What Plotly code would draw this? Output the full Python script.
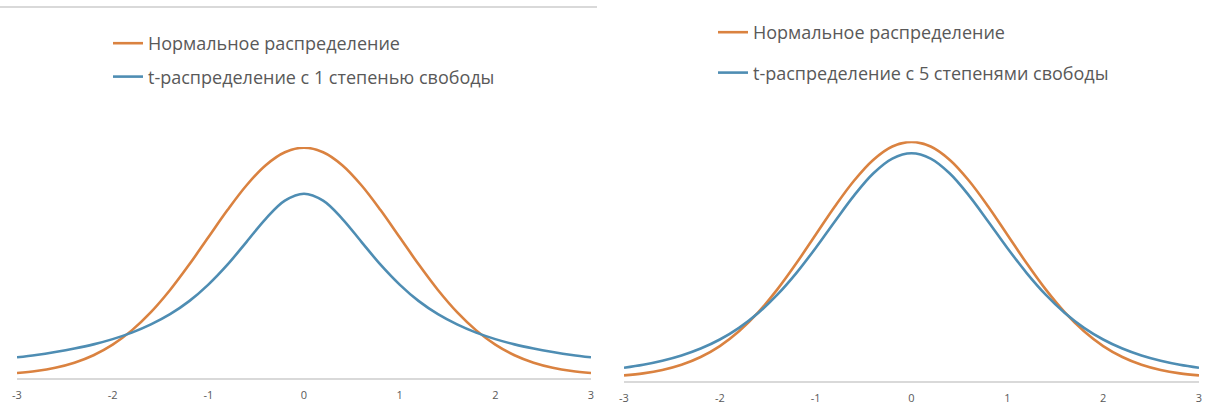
import plotly.graph_objects as go

# x positions (shared by all series)
x_vals = [-3.0, -2.8, -2.6, -2.4, -2.2, -2.0, -1.8, -1.6, -1.4, -1.2, -1.0, -0.8, -0.6, -0.4, -0.2,
          0.0, 0.2, 0.4, 0.6, 0.8, 1.0, 1.2, 1.4, 1.6, 1.8, 2.0, 2.2, 2.4, 2.6, 2.8, 3.0]

# Normal distribution density
normal_vals = [0.0044, 0.0079, 0.0136, 0.0224, 0.0355, 0.0540, 0.0790, 0.1109, 0.1497, 0.1942, 0.2420, 0.2897, 0.3332, 0.3683, 0.3910,
               0.3989, 0.3910, 0.3683, 0.3332, 0.2897, 0.2420, 0.1942, 0.1497, 0.1109, 0.0790, 0.0540, 0.0355, 0.0224, 0.0136, 0.0079, 0.0044]

# t-distribution, 1 degree of freedom
t1_vals = [0.0318, 0.0359, 0.0411, 0.0472, 0.0545, 0.0637, 0.0751, 0.0895, 0.1074, 0.1302, 0.1592, 0.1941, 0.2341, 0.2744, 0.3061,
           0.3183, 0.3061, 0.2744, 0.2341, 0.1941, 0.1592, 0.1302, 0.1074, 0.0895, 0.0751, 0.0637, 0.0545, 0.0472, 0.0411, 0.0359, 0.0318]

# t-distribution, 5 degrees of freedom
t5_vals = [0.0173, 0.0224, 0.0292, 0.0381, 0.0498, 0.0651, 0.0848, 0.1098, 0.1408, 0.1777, 0.2197, 0.2645, 0.3081, 0.3454, 0.3706,
           0.3796, 0.3706, 0.3454, 0.3081, 0.2645, 0.2197, 0.1777, 0.1408, 0.1098, 0.0848, 0.0651, 0.0498, 0.0381, 0.0292, 0.0224, 0.0173]

tick_vals = [-3, -2, -1, 0, 1, 2, 3]
tick_text = ["-3", "-2", "-1", "0", "1", "2", "3"]

name_normal = "Нормальное распределение"
name_t1 = "t-распределение с 1 степенью свободы"
name_t5 = "t-распределение с 5 степенями свободы"

ORANGE = "#DA8240"
BLUE = "#4E8DB3"
TEXT = "#595959"
W, H = 1208, 412

fig = go.Figure()
fig.add_trace(go.Scatter(x=x_vals, y=normal_vals, mode="lines", name=name_normal,
                         line=dict(color=ORANGE, width=2.6, shape="spline"),
                         xaxis="x", yaxis="y", legend="legend", legendgroup="a"))
fig.add_trace(go.Scatter(x=x_vals, y=t1_vals, mode="lines", name=name_t1,
                         line=dict(color=BLUE, width=2.6, shape="spline"),
                         xaxis="x", yaxis="y", legend="legend", legendgroup="b"))
fig.add_trace(go.Scatter(x=x_vals, y=normal_vals, mode="lines", name=name_normal,
                         line=dict(color=ORANGE, width=2.6, shape="spline"),
                         xaxis="x2", yaxis="y2", legend="legend2", legendgroup="c"))
fig.add_trace(go.Scatter(x=x_vals, y=t5_vals, mode="lines", name=name_t5,
                         line=dict(color=BLUE, width=2.6, shape="spline"),
                         xaxis="x2", yaxis="y2", legend="legend2", legendgroup="d"))

axis_x = dict(range=[-3, 3], tickvals=tick_vals, ticktext=tick_text, showgrid=False, zeroline=False,
              showline=True, linecolor="#D9D9D9", linewidth=1.5, ticks="outside", ticklen=6,
              tickcolor="rgba(0,0,0,0)", tickfont=dict(family="Open Sans", size=11, color=TEXT),
              automargin=False)

fig.update_layout(
    width=W, height=H,
    margin=dict(l=0, r=0, t=0, b=0, autoexpand=False),
    paper_bgcolor="white", plot_bgcolor="white",
    xaxis=dict(domain=[17 / W, 591 / W], anchor="y", **axis_x),
    yaxis=dict(domain=[(H - 378) / H, (H - 147.1) / H], range=[-0.0044, 0.4], visible=False,
               anchor="x", automargin=False),
    xaxis2=dict(domain=[624 / W, 1199 / W], anchor="y2", **axis_x),
    yaxis2=dict(domain=[(H - 381) / H, (H - 141.2) / H], range=[-0.005, 0.4], visible=False,
                anchor="x2", automargin=False),
    legend=dict(x=108 / W, y=1 - 25 / H, xanchor="left", yanchor="top", bgcolor="rgba(0,0,0,0)",
                font=dict(family="Open Sans", size=18, color=TEXT), tracegroupgap=7, itemwidth=30),
    legend2=dict(x=713 / W, y=1 - 14 / H, xanchor="left", yanchor="top", bgcolor="rgba(0,0,0,0)",
                 font=dict(family="Open Sans", size=18, color=TEXT), tracegroupgap=14, itemwidth=30),
    shapes=[dict(type="line", xref="paper", yref="paper", x0=0, x1=597 / W, y0=1 - 7 / H, y1=1 - 7 / H,
                 line=dict(color="#D9D9D9", width=2))],
)

fig.write_html("out.html", config={"displayModeBar": False},
               post_script="document.body.style.margin='0';document.body.style.overflow='hidden';")
